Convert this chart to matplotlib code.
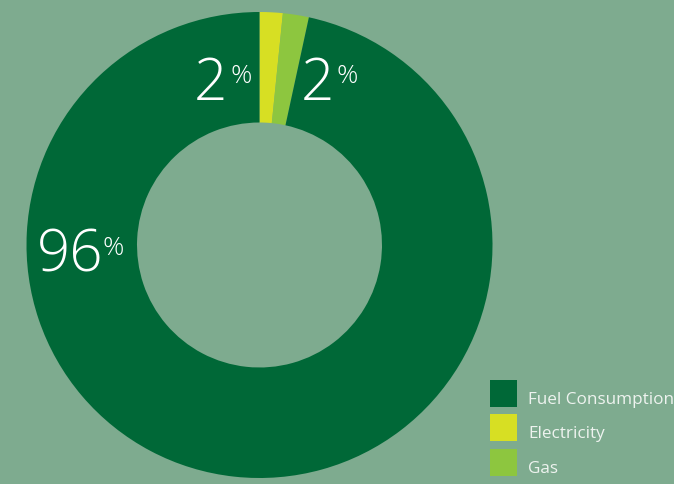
import numpy as np
import matplotlib
matplotlib.use("Agg")
from matplotlib import pyplot as plt
from matplotlib.patches import Rectangle

# Data (slice sizes, labels as printed)
categories = ["Electricity", "Gas", "Fuel Consumption"]
shares = [1.6, 1.8, 96.6]
label_text = ["2", "2", "96"]
colors = ["#d7df23", "#8dc63f", "#006837"]

legend_order = ["Fuel Consumption", "Electricity", "Gas"]

bg = "#7eab8f"
plt.rcParams['font.family'] = ['Open Sans', 'DejaVu Sans']

fig = plt.figure(figsize=(6.74, 4.84), dpi=100, facecolor=bg)
ax = fig.add_axes([0, 0, 1, 1])
ax.set_facecolor(bg)

# pie drawn in pixel coordinates (y axis points down)
cx, cy, R, r = 259.5, 245, 233, 122.5
ax.pie(shares, colors=colors, startangle=-90, counterclock=True,
       center=(cx, cy), radius=R, frame=True,
       wedgeprops=dict(width=R - r, linewidth=0))
ax.set_xlim(0, 674)
ax.set_ylim(484, 0)
ax.set_aspect("equal")
ax.axis("off")

# Percentage labels: big number + small percent sign
num_pos = [(194, 100), (301, 100), (37, 272)]
pct_pos = [(230, 83), (336, 83), (103, 255)]
for txt, (x, y), (px, py) in zip(label_text, num_pos, pct_pos):
    ax.text(x, y, txt, color="white", fontsize=42, fontweight="light",
            ha="left", va="baseline")
    ax.text(px, py, "%", color="white", fontsize=19, fontweight="light",
            ha="left", va="baseline")

# Legend
leg_y = [380, 414, 449]
for name, y in zip(legend_order, leg_y):
    c = colors[categories.index(name)]
    ax.add_patch(Rectangle((490, y), 27, 27, facecolor=c, edgecolor="none"))
    ax.text(528, y + 20, name, color="#eef3ef", fontsize=12.3,
            ha="left", va="center", clip_on=False)

fig.savefig("out.png", dpi=100, facecolor=bg)
